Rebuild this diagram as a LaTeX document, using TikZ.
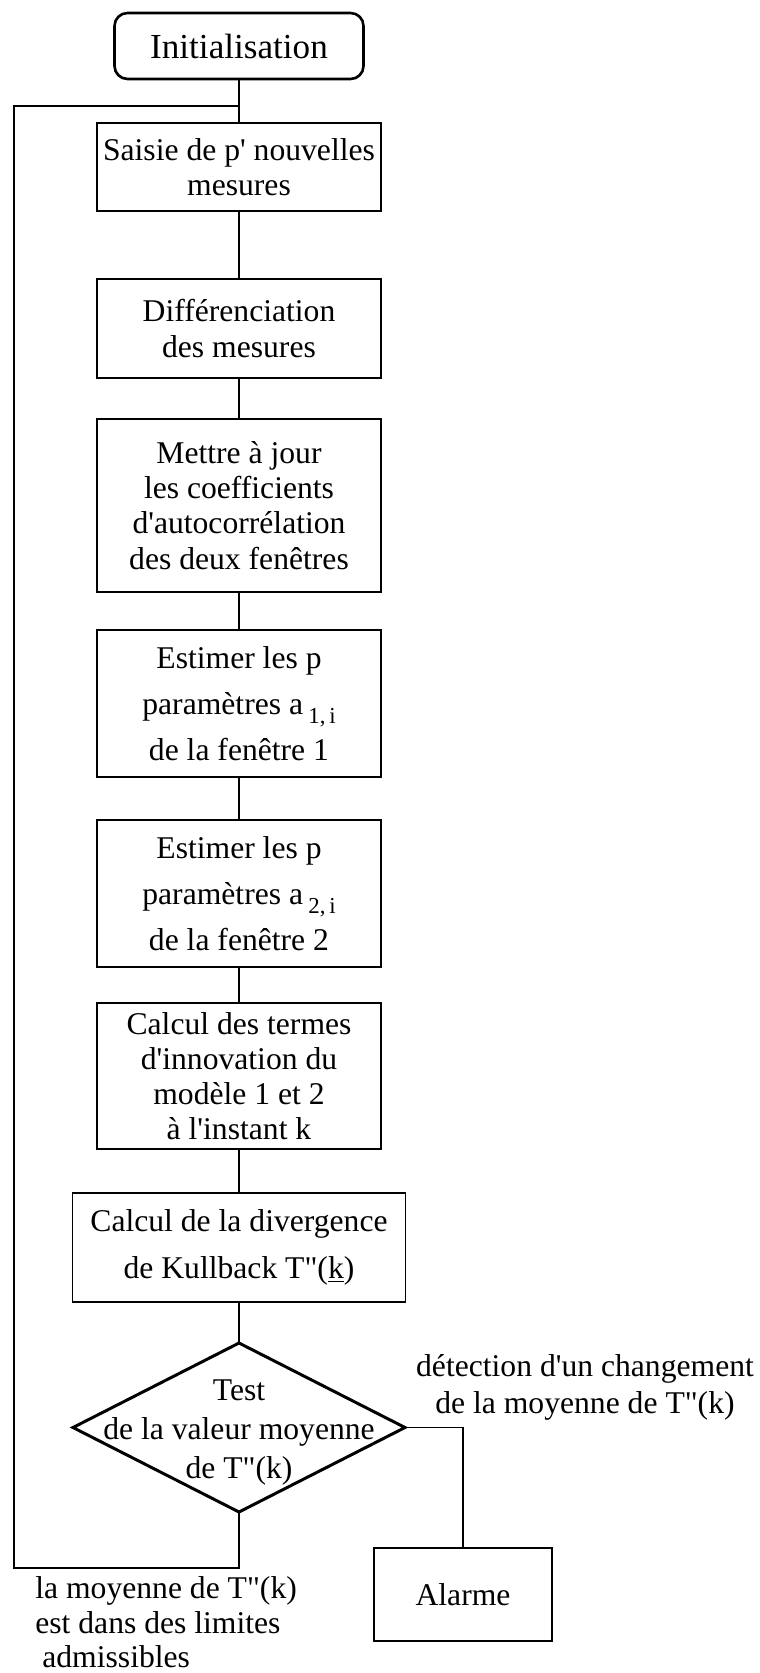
\documentclass[tikz,border=0pt]{standalone}
\usepackage{fontspec}
\setmainfont{Liberation Serif}
\usetikzlibrary{shapes.geometric,positioning}
\newcommand{\ap}{\textquotesingle}
\newcommand{\dq}{\textquotedbl}
\newcommand{\idx}[1]{\,\raisebox{-5.5pt}{\fontsize{13}{13}\selectfont #1}}
\tikzset{
  startstop/.style={rectangle, rounded corners=0.26cm, minimum width=4.98cm, minimum height=1.32cm, align=center, draw=black, line width=1.5pt, outer sep=0pt, font=\fontsize{20}{22}\selectfont},
  process/.style={rectangle, minimum width=5.68cm, align=center, draw=black, line width=1.1pt, inner sep=1pt, outer sep=0pt},
  decision/.style={diamond, minimum width=6.64cm, minimum height=3.38cm, draw=black, line width=1.7pt, inner sep=0pt, outer sep=0pt},
  note/.style={align=center, inner sep=0pt},
  link/.style={draw=black, line width=1pt},
}
\begin{document}
\begin{tikzpicture}[font=\fontsize{18}{20}\selectfont]
  \useasboundingbox (0,0) rectangle (15.18,-33.46);
  \node[startstop] (init) at (4.78,-0.92) {Initialisation};
  \node[process, minimum height=1.76cm, below=0.88cm of init] (saisie) {Saisie de p\ap{} nouvelles\\mesures};
  \node[process, minimum height=1.98cm, below=1.36cm of saisie] (diff) {Différenciation\\des mesures};
  \node[process, minimum height=3.46cm, below=0.82cm of diff] (maj) {Mettre à jour\\les coefficients\\d\ap{}autocorrélation\\des deux fenêtres};
  \node[process, minimum height=2.94cm, below=0.76cm of maj] (est1) {Estimer les p\\[6pt]paramètres a\idx{1,\,i}\\[5pt]de la fenêtre 1};
  \node[process, minimum height=2.94cm, below=0.86cm of est1] (est2) {Estimer les p\\[6pt]paramètres a\idx{2,\,i}\\[5pt]de la fenêtre 2};
  \node[process, minimum height=2.92cm, below=0.72cm of est2] (calc) {Calcul des termes\\d\ap{}innovation du\\modèle 1 et 2\\à l\ap{}instant k};
  \node[process, line width=0.8pt, minimum width=6.66cm, minimum height=2.18cm, below=0.88cm of calc] (kull) {Calcul de la divergence\\[7pt]de Kullback T\dq(\underline{k})};
  \node[decision, below=0.82cm of kull] (test) {};
  \node[note, font=\fontsize{18}{22}\selectfont] (testtxt) at ([yshift=-0.1cm]test.center) {Test\\de la valeur moyenne\\de T\dq(k)};
  \node[process, line width=1.3pt, minimum width=3.56cm, minimum height=1.86cm] (alarm) at (9.26,-31.89) {Alarme};
  \node[note, font=\fontsize{18}{21}\selectfont] (change) at (11.70,-27.74) {détection d\ap{}un changement\\de la moyenne de T\dq(k)};
  \node[note, align=left, anchor=north west, font=\fontsize{18}{19.5}\selectfont] (ok) at (0.70,-31.53) {la moyenne de T\dq(k)\\est dans des limites\\\hspace{4pt}admissibles};
  \coordinate (back) at (0.28,-2.12);
  \coordinate (join) at (4.78,-2.12);
  % connectors
  \draw[link] (init) -- (saisie);
  \draw[link] (saisie) -- (diff);
  \draw[link] (diff) -- (maj);
  \draw[link] (maj) -- (est1);
  \draw[link] (est1) -- (est2);
  \draw[link] (est2) -- (calc);
  \draw[link] (calc) -- (kull);
  \draw[link] (kull) -- (test);
  \draw[link] (test.east) -| (alarm.north);
  \draw[link] (test.south) -- ++(0,-1.12) -| (back) -- (join);
\end{tikzpicture}
\end{document}
